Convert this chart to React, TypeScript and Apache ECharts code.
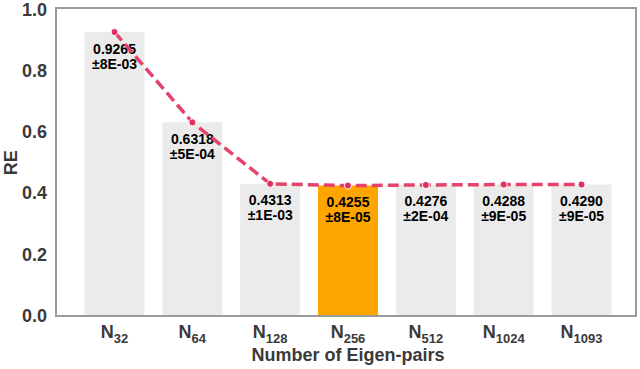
import React, { useEffect, useRef } from "react";
import * as echarts from "echarts";

const categories = ["32", "64", "128", "256", "512", "1024", "1093"];
const reValues = [0.9265, 0.6318, 0.4313, 0.4255, 0.4276, 0.4288, 0.429];
const errLabels = ["8E-03", "5E-04", "1E-03", "8E-05", "2E-04", "9E-05", "9E-05"];
const highlightIndex = 3;
const yTicks = [0, 0.2, 0.4, 0.6, 0.8, 1.0];

const FONT = "'Liberation Sans', Arial, sans-serif";
const AX = "#3a3a3a";

export default function App() {
  const ref = useRef<HTMLDivElement>(null);
  useEffect(() => {
    if (!ref.current) return;
    const chart = echarts.init(ref.current, undefined, { renderer: "svg" });
    const left = 75.6;
    const right = 19.6;
    chart.setOption({
      animation: false,
      textStyle: { fontFamily: FONT },
      grid: { left, right, top: 9.5, bottom: 53, containLabel: false, outerBoundsMode: "none" },
      graphic: [
        {
          type: "rect",
          shape: { x: 56, y: 8, width: 580, height: 308 },
          style: { fill: "none", stroke: "#9a9a9a", lineWidth: 2 },
          z: 100,
          silent: true,
        },
      ],
      xAxis: {
        type: "category",
        data: categories,
        axisLine: { show: false },
        axisTick: { show: false },
        name: "Number of Eigen-pairs",
        nameLocation: "middle",
        nameGap: 30,
        nameMoveOverlap: false,
        nameTextStyle: { fontFamily: FONT, fontWeight: "bold", fontSize: 18, color: AX },
        axisLabel: {
          interval: 0,
          margin: 6,
          formatter: (v: string) => `{n|N}{s|${v}}`,
          rich: {
            n: { fontFamily: FONT, fontWeight: "bold", fontSize: 18, color: AX, lineHeight: 20 },
            s: { fontFamily: FONT, fontWeight: "bold", fontSize: 13, color: AX, lineHeight: 20, padding: [12, 0, 0, 0] },
          },
        },
      },
      yAxis: {
        type: "value",
        min: 0,
        max: 1,
        interval: 0.2,
        offset: left - 56,
        axisLine: { show: false },
        axisTick: { show: false },
        splitLine: { show: false },
        name: "RE",
        nameLocation: "middle",
        nameGap: 36,
        nameMoveOverlap: false,
        nameTextStyle: { fontFamily: FONT, fontWeight: "bold", fontSize: 18, color: AX },
        axisLabel: {
          margin: 9,
          fontFamily: FONT,
          fontWeight: "bold",
          fontSize: 18,
          color: AX,
          formatter: (v: number) => (yTicks.some((t) => Math.abs(t - v) < 1e-9) ? v.toFixed(1) : ""),
        },
      },
      series: [
        {
          type: "bar",
          barWidth: 60,
          z: 2,
          data: reValues.map((v, i) => ({
            value: v,
            itemStyle: { color: i === highlightIndex ? "#FFA500" : "#EBEBEB" },
          })),
          label: {
            show: true,
            position: "insideTop",
            distance: 9,
            fontFamily: FONT,
            fontWeight: "bold",
            fontSize: 14,
            lineHeight: 15,
            color: "#000",
            formatter: (p: any) => `${reValues[p.dataIndex].toFixed(4)}\n±${errLabels[p.dataIndex]}`,
          },
        },
        {
          type: "line",
          z: 5,
          data: reValues,
          symbol: "circle",
          symbolSize: 7,
          lineStyle: { color: "#E4436B", width: 3.5, type: [11, 5] },
          itemStyle: { color: "#E0305E", borderColor: "#ffffff", borderWidth: 1 },
          label: { show: false },
        },
      ],
    });
    return () => chart.dispose();
  }, []);
  return <div ref={ref} style={{ width: 640, height: 369, position: "absolute", left: 0, top: 0 }} />;
}
